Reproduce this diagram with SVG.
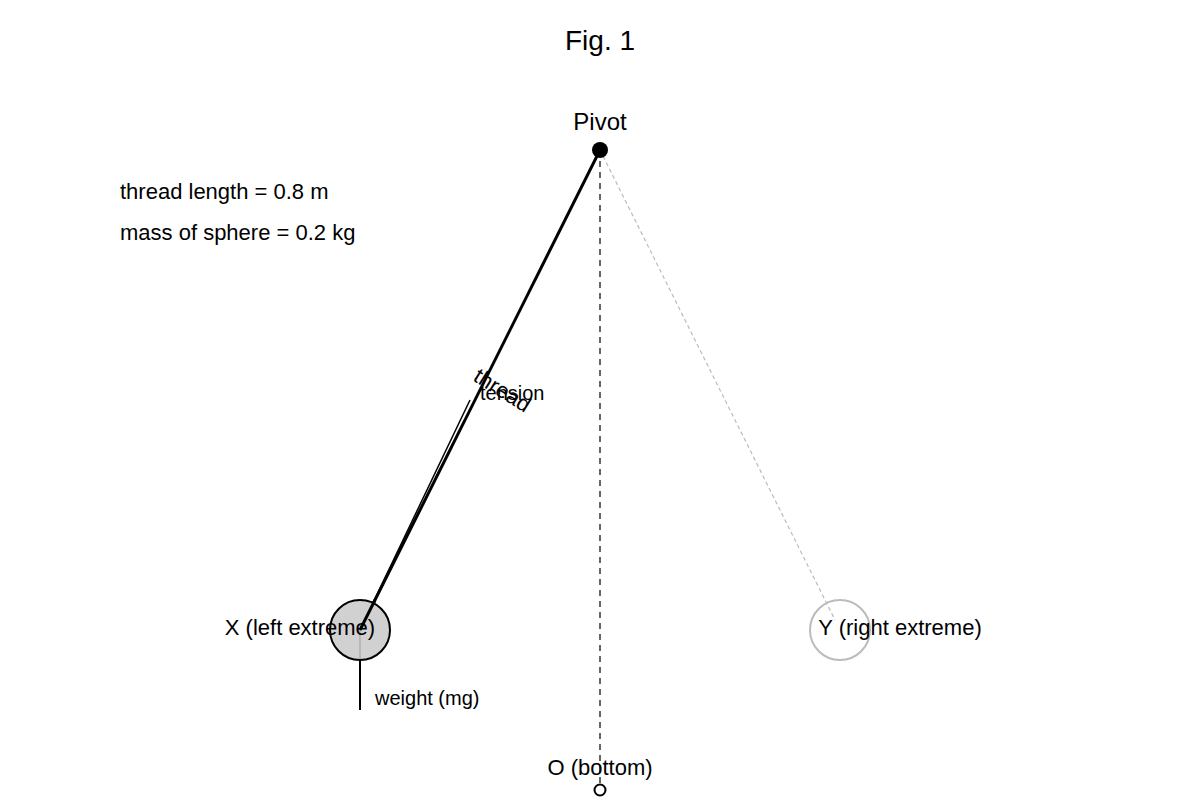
<svg xmlns="http://www.w3.org/2000/svg" width="1200" height="800" viewBox="0 0 1200 800">
<style>text{font-family:"Liberation Sans",Arial,sans-serif;fill:#000}</style>
<rect width="1200" height="800" fill="#fff"/>
<text x="600" y="50" font-size="28" text-anchor="middle">Fig. 1</text>
<text x="120" y="199" font-size="22">thread length = 0.8 m</text>
<text x="120" y="240" font-size="22">mass of sphere = 0.2 kg</text>
<g id="connectors">
<line x1="600" y1="150" x2="600" y2="785" stroke="#666" stroke-width="2" stroke-dasharray="6,5"/>
<line x1="600" y1="150" x2="835" y2="620" stroke="#bbb" stroke-width="1.2" stroke-dasharray="4,3"/>
<line x1="600" y1="150" x2="360" y2="630" stroke="#000" stroke-width="3"/>
<line x1="360" y1="630" x2="470" y2="400" stroke="#000" stroke-width="1.5"/>
<line x1="360" y1="630" x2="360" y2="710" stroke="#000" stroke-width="2"/>
<text x="0" y="0" font-size="22" transform="translate(472,380) rotate(32)">thread</text>
<text x="480" y="400" font-size="20">tension</text>
<text x="375" y="705" font-size="20">weight (mg)</text>
</g>
<g id="pivot"><circle cx="600" cy="150" r="8" fill="#000"/><text x="600" y="130" font-size="24" text-anchor="middle">Pivot</text></g>
<g id="X"><circle cx="360" cy="630" r="30" fill="#ccc" stroke="#000" stroke-width="2" fill-opacity="0.9"/><line x1="360" y1="630" x2="375" y2="600" stroke="#000" stroke-width="3"/><text x="300" y="635" font-size="22" text-anchor="middle">X (left extreme)</text></g>
<g id="Y"><circle cx="840" cy="630" r="30" fill="none" stroke="#bbb" stroke-width="2"/><text x="900" y="635" font-size="22" text-anchor="middle">Y (right extreme)</text></g>
<g id="O"><circle cx="600" cy="790" r="5.5" fill="none" stroke="#000" stroke-width="2"/><text x="600" y="775" font-size="22" text-anchor="middle">O (bottom)</text></g>
</svg>
